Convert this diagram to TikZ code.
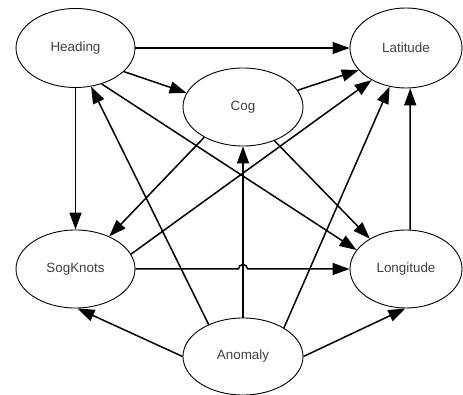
\documentclass[tikz,border=0pt]{standalone}
\usepackage{fontspec}
\setmainfont{Liberation Sans}
\usetikzlibrary{shapes.geometric,arrows.meta}

\begin{document}
\begin{tikzpicture}[x=1pt,y=-1pt,
    var/.style={ellipse,draw,line width=0.9pt,inner sep=0pt,minimum width=119pt,
      minimum height=79pt,font=\fontsize{13.4}{16}\selectfont,text=black!75},
    dep/.style={line width=1.5pt,-{Triangle[length=17pt,width=12pt]}}]
  \useasboundingbox (0,0) rectangle (463,395);

  \node[var] (head) at (75.5,48) {Heading};
  \node[var,minimum width=112pt,minimum height=80pt] (lat) at (406,48) {Latitude};
  \node[var,minimum width=120pt,minimum height=78pt] (cog) at (243,107) {Cog};
  \node[var,minimum height=78pt] (sog) at (75.5,269) {SogKnots};
  \node[var,minimum width=112pt,minimum height=78pt] (lon) at (406,269) {Longitude};
  \node[var,minimum width=120pt,minimum height=77pt] (anom) at (243,356.5) {Anomaly};

  \coordinate (hop) at (238.5,269);

  \draw[dep] (head) -- (lat);
  \draw[dep] (head.-26) -- (cog.166);
  \draw[dep] (head) -- (sog);
  \draw[dep] (head.-54) -- (lon.159);
  \draw[dep] (cog.17) -- (lat.205);
  \draw[dep] (cog.218) -- (sog.44);
  \draw[dep] (cog.-47) -- (lon.140);
  \draw[dep] (sog.15) -- (lat.223);
  \draw[dep] (sog) -- (hop) arc[start angle=180,end angle=360,radius=4.5] -- (lon);
  \draw[dep] (lon.84) -- (lat.276);
  \draw[dep] (anom.137) -- (head.-68);
  \draw[dep] (anom) -- (cog);
  \draw[dep] (anom.35) -- (lat.247);
  \draw[dep] (anom.west) -- (sog.-87);
  \draw[dep] (anom.east) -- (lon.-91);
\end{tikzpicture}
\end{document}
